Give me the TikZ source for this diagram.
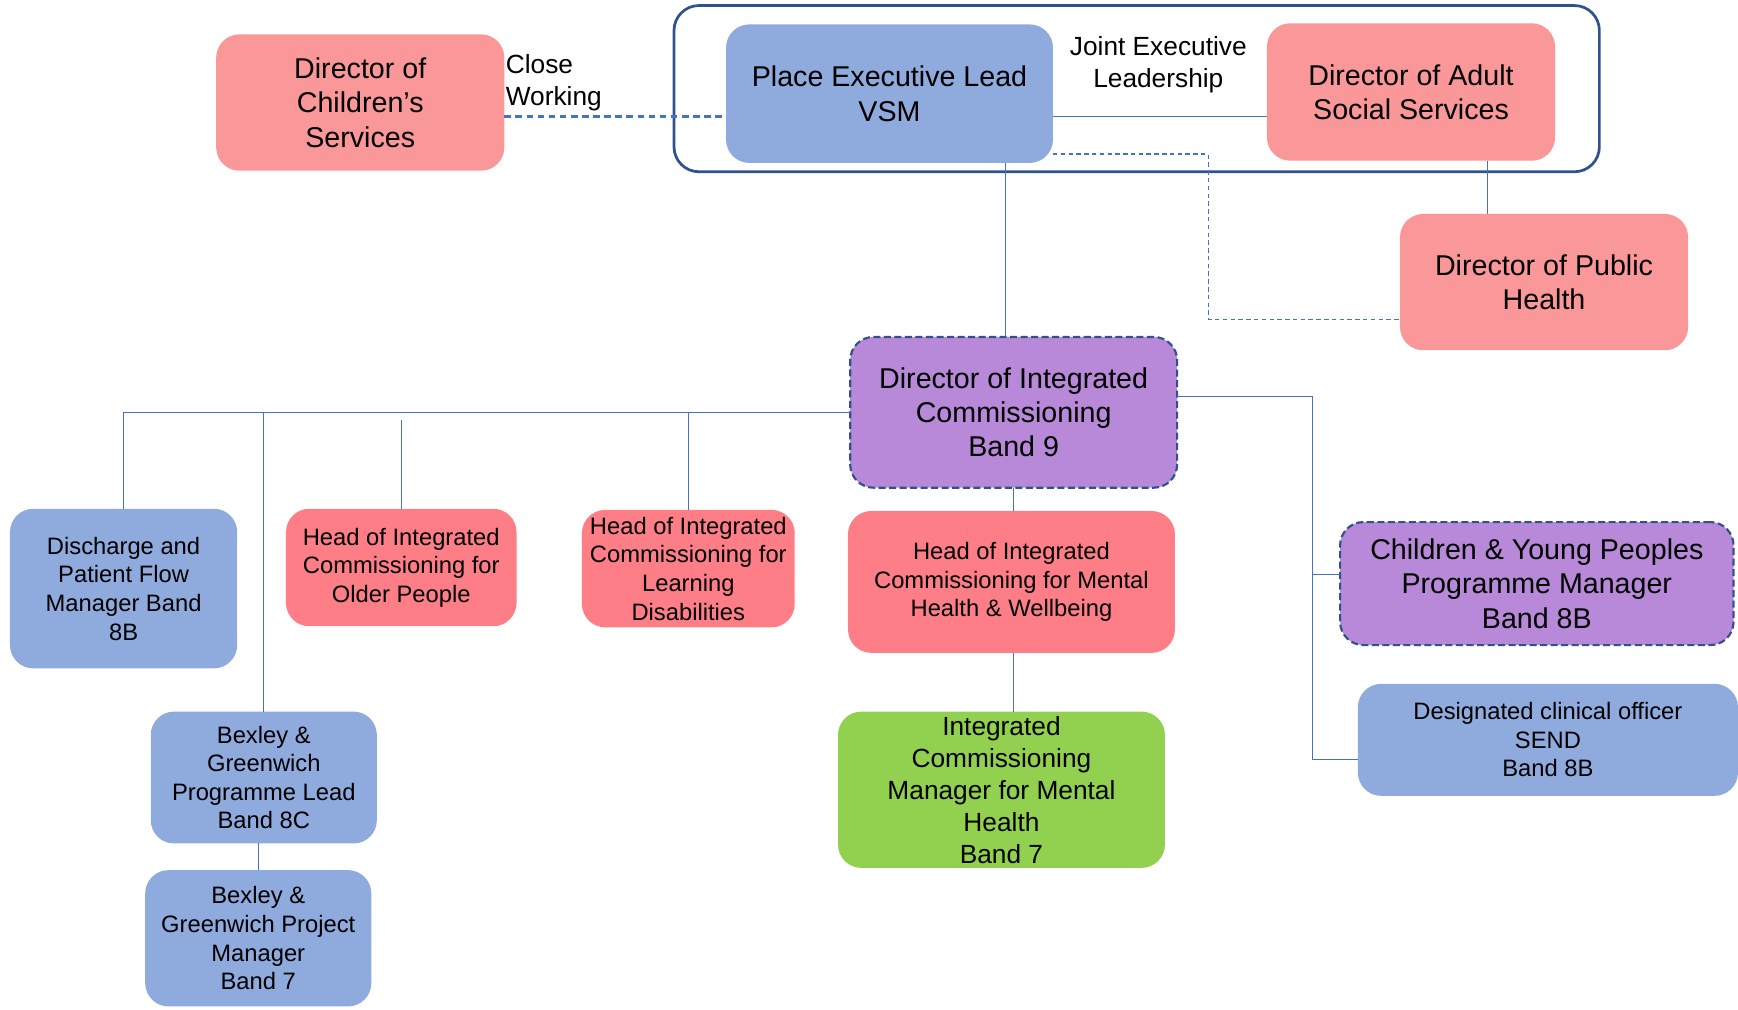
\documentclass[tikz,border=0pt]{standalone}
\usepackage{fontspec}
\setmainfont{Liberation Sans}
\usetikzlibrary{positioning,calc}

\definecolor{dirpink}{RGB}{250,152,153}
\definecolor{headpink}{RGB}{253,126,135}
\definecolor{rolblue}{RGB}{143,170,220}
\definecolor{rolpurple}{RGB}{184,137,217}
\definecolor{rolgreen}{RGB}{146,208,80}
\definecolor{linkblue}{RGB}{68,114,196}
\definecolor{framenavy}{RGB}{47,82,143}

\newcommand{\bigtxt}{\fontsize{14.7}{17.6}\selectfont}
\newcommand{\midtxt}{\fontsize{13.5}{16.4}\selectfont}
\newcommand{\smalltxt}{\fontsize{12.2}{14.7}\selectfont}

\begin{document}
\begin{tikzpicture}[
  x=0.02cm, y=-0.02cm,
  every node/.style={font=\bigtxt},
  post/.style={fill=#1, rounded corners=0.42cm, align=center, inner sep=0pt, outer sep=0pt},
  dashpost/.style={post=#1, draw=framenavy, line width=1.1pt, dash pattern=on 3.6pt off 1.8pt},
  frame/.style={draw=framenavy, line width=1.4pt, rounded corners=0.45cm, inner sep=0pt},
  link/.style={draw=linkblue, line width=0.6pt},
  softlink/.style={link, dash pattern=on 2.3pt off 1.7pt},
  closelink/.style={draw=linkblue, line width=1.2pt, dash pattern=on 3.4pt off 2.3pt},
]
\useasboundingbox (0,0) rectangle (1568,911);

% --- Top row: joint executive leadership
\node[frame, minimum width=16.7cm, minimum height=3cm] (joint) at (1025.5,80) {};
\node[post=rolblue, minimum width=5.9cm, minimum height=2.5cm] (vsm) at (802.5,84.5)
  {Place Executive Lead\\VSM};
\node[post=dirpink, minimum width=5.2cm, minimum height=2.48cm] (adult) at (1273,83)
  {Director of Adult\\Social Services};
\node[post=dirpink, minimum width=5.2cm, minimum height=2.46cm] (child) at (325,92.5)
  {Director of\\Children’s\\Services};
\node[post=dirpink, minimum width=5.2cm, minimum height=2.46cm] (pubh) at (1393,254.5)
  {Director of Public\\Health};
\node[font=\midtxt, align=left, anchor=west, inner sep=0pt] (close) at (456,74.5)
  {Close\\Working};
\node[font=\midtxt, align=center, inner sep=0pt] (jointtxt) at (1045,58.5)
  {Joint Executive\\Leadership};

% --- Director of integrated commissioning
\node[dashpost=rolpurple, minimum width=5.9cm, minimum height=2.72cm] (dic) at (914.5,372)
  {Director of Integrated\\Commissioning\\Band 9};

% --- Heads and managers
\node[post=rolblue, font=\smalltxt, minimum width=4.1cm, minimum height=2.88cm] (flow) at (111.5,531)
  {Discharge and\\Patient Flow\\Manager Band\\8B};
\node[post=headpink, font=\smalltxt, minimum width=4.16cm, minimum height=2.12cm] (older) at (362,512)
  {Head of Integrated\\Commissioning for\\Older People};
\node[post=headpink, font=\smalltxt, minimum width=3.84cm, minimum height=2.12cm] (learn) at (621,513)
  {Head of Integrated\\Commissioning for\\Learning\\Disabilities};
\node[post=headpink, font=\smalltxt, minimum width=5.9cm, minimum height=2.56cm] (mental) at (912.5,525)
  {Head of Integrated\\Commissioning for Mental\\Health \& Wellbeing};
\node[post=rolgreen, font=\midtxt, minimum width=5.9cm, minimum height=2.82cm] (icm) at (903.5,712.5)
  {Integrated\\Commissioning\\Manager for Mental\\Health\\Band 7};
\node[dashpost=rolpurple, minimum width=7.1cm, minimum height=2.22cm] (cyp) at (1386.5,526.5)
  {Children \& Young Peoples\\Programme Manager\\Band 8B};
\node[post=rolblue, font=\smalltxt, minimum width=6.86cm, minimum height=2.02cm] (dco) at (1396.5,667.5)
  {Designated clinical officer\\SEND\\Band 8B};
\node[post=rolblue, font=\smalltxt, minimum width=4.08cm, minimum height=2.38cm] (bgpl) at (238,701.5)
  {Bexley \&\\Greenwich\\Programme Lead\\Band 8C};
\node[post=rolblue, font=\smalltxt, minimum width=4.08cm, minimum height=2.46cm] (bgpm) at (233,846.5)
  {Bexley \&\\Greenwich Project\\Manager\\Band 7};

% --- Links in the top row
\draw[closelink] (child.east |- 0,105) -- (vsm.west |- 0,105);
\draw[link] (vsm.east |- 0,105) -- (adult.west |- 0,105);
\draw[softlink] (vsm.east |- 0,139) -- (1090,139) |- (pubh.west |- 0,288);
\draw[link] (1342,0 |- adult.south) -- (1342,0 |- pubh.north);
\draw[link] (907,0 |- vsm.south) -- (907,0 |- dic.north);

% --- Left bus
\draw[link] (dic.west) -| (flow.north);
\draw[link] (bgpl.north |- dic.west) -- (bgpl.north);
\draw[link] (older.north |- 0,379) -- (older.north);
\draw[link] (learn.north |- dic.west) -- (learn.north);
\draw[link] (bgpm.north |- bgpl.south) -- (bgpm.north);

% --- Down the middle
\draw[link] (dic.south) -- (dic.south |- mental.north);
\draw[link] (dic.south |- mental.south) -- (dic.south |- icm.north);

% --- Right trunk
\draw[link] (dic.east |- 0,358) -- (1184,358) |- (dco.west |- 0,685);
\draw[link] (1184,518) -- (cyp.west |- 0,518);
\end{tikzpicture}
\end{document}
